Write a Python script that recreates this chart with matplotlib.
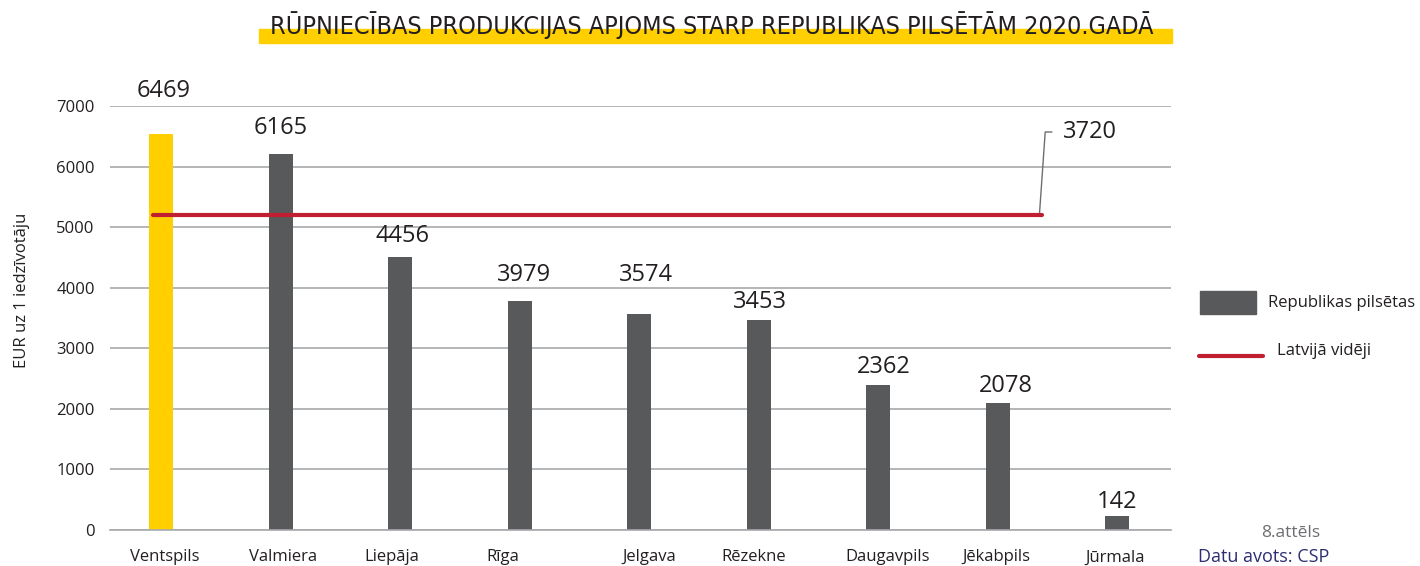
import matplotlib
matplotlib.use('Agg')
import matplotlib.pyplot as plt
from matplotlib.patches import Rectangle
from matplotlib.lines import Line2D
from matplotlib.transforms import ScaledTranslation

plt.rcParams['font.family'] = ['Open Sans', 'DejaVu Sans']

cities = ['Ventspils', 'Valmiera', 'Liepāja', 'Rīga', 'Jelgava', 'Rēzekne',
          'Daugavpils', 'Jēkabpils', 'Jūrmala']
# bar heights as drawn in the picture
heights = [6530, 6200, 4500, 3780, 3560, 3470, 2400, 2100, 225]
# values printed on the bars
labels = ['6469', '6165', '4456', '3979', '3574', '3453', '2362', '2078', '142']
avg_level = 5200
avg_label = '3720'

YELLOW = '#FFCF00'
GREY = '#58595B'
RED = '#C01F32'
TXT = '#231F20'
W, H = 1420, 566

# small layout tweaks in pixels (label centre relative to bar top / centre)
lab_dy = [43, 26, 21, 26, 39, 18, 18, 17, 14]
lab_dx = [2, 0, 2, 4, 7, 1, 5, 8, 0]
tick_dx = [3, 2, -9, -17, 10, -5, 9, -1, -2]

fig = plt.figure(figsize=(W / 100, H / 100), dpi=100)
ax = fig.add_axes([110 / W, (H - 530) / H, (1171 - 110) / W, (530 - 106) / H])

x = list(range(len(cities)))
colors = [YELLOW] + [GREY] * (len(cities) - 1)
ax.bar(x, heights, width=0.2, color=colors, zorder=2)

ax.set_xlim(-0.43, len(cities) - 1 + 0.45)
ax.set_ylim(0, 7000)
ax.set_yticks(range(0, 7001, 1000))
ax.yaxis.grid(True, color='#A7A9AC', linewidth=1.2, zorder=0)
ax.set_axisbelow(True)
for s in ['top', 'right', 'left']:
    ax.spines[s].set_visible(False)
ax.spines['bottom'].set_color('#A7A9AC')
ax.spines['bottom'].set_linewidth(1.2)
ax.tick_params(axis='both', length=0, labelsize=12, labelcolor=TXT)
ax.tick_params(axis='y', pad=11)
ax.tick_params(axis='x', pad=14)
ax.set_xticks(x)
ax.set_xticklabels(cities)
for lab, dx in zip(ax.get_xticklabels(), tick_dx):
    lab.set_transform(lab.get_transform() + ScaledTranslation(dx / 100, 0, fig.dpi_scale_trans))

for xi, h, t, dy, dx in zip(x, heights, labels, lab_dy, lab_dx):
    ax.annotate(t, (xi, h), xytext=(dx * 0.72, dy * 0.72), textcoords='offset points',
                ha='center', va='center', fontsize=17, color=TXT)

# average line
ax.plot([-0.067, 7.37], [avg_level, avg_level], color=RED, linewidth=3,
        solid_capstyle='round', zorder=3)
ax.annotate(avg_label, (7.37 - 0.02, avg_level + 40), xytext=(1063, H - 132),
            textcoords='figure pixels', ha='left', va='center', fontsize=17, color=TXT,
            arrowprops=dict(arrowstyle='-', color='#6D6E71', lw=1,
                            connectionstyle='angle,angleA=0,angleB=86,rad=0',
                            shrinkA=6, shrinkB=0))

# y label
fig.text(22 / W, 1 - 290 / H, 'EUR uz 1 iedzīvotāju', rotation=90, ha='center', va='center',
         fontsize=12, color=TXT)

# title with yellow band
fig.patches.append(Rectangle((259 / W, 1 - 42.7 / H), (1172 - 259) / W, 13.7 / H,
                             transform=fig.transFigure, color=YELLOW, zorder=0))
fig.text(712 / W, 1 - 34 / H, 'RŪPNIECĪBAS PRODUKCIJAS APJOMS STARP REPUBLIKAS PILSĒTĀM 2020.GADĀ',
         ha='center', va='baseline', fontsize=18, color=TXT,
         family=['Liberation Sans Narrow', 'DejaVu Sans'], fontstretch='condensed', zorder=2)

# legend
fig.patches.append(Rectangle((1200 / W, 1 - 314 / H), 56 / W, 23 / H,
                             transform=fig.transFigure, color=GREY))
fig.text(1268 / W, 1 - 303 / H, 'Republikas pilsētas', ha='left', va='center', fontsize=12, color=TXT)
fig.lines.append(Line2D([1199 / W, 1263 / W], [1 - 356 / H, 1 - 356 / H], transform=fig.transFigure,
                        color=RED, linewidth=3, solid_capstyle='round'))
fig.text(1277 / W, 1 - 351 / H, 'Latvijā vidēji', ha='left', va='center', fontsize=12, color=TXT)

fig.text(1291 / W, 1 - 533 / H, '8.attēls', ha='center', va='center', fontsize=12.5, color='#6D6E71')
fig.text(1198 / W, 1 - 557 / H, 'Datu avots: CSP', ha='left', va='center', fontsize=13, color='#2E2D73')

fig.savefig('out.png', dpi=100)
